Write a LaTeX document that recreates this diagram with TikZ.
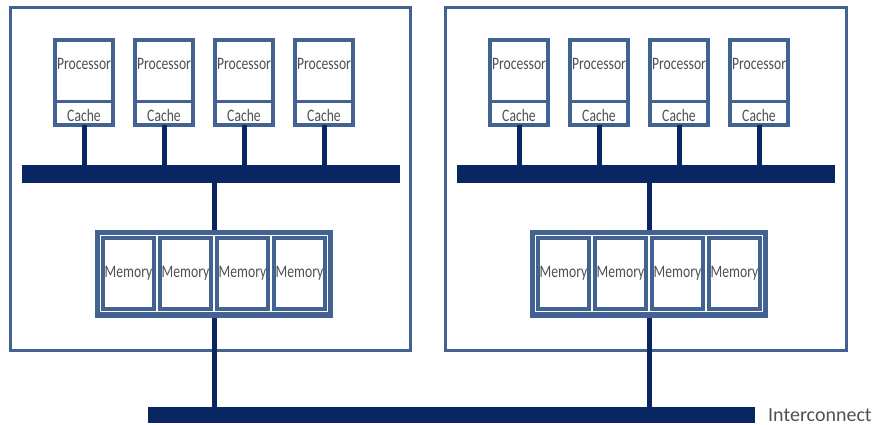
\documentclass[tikz,border=0pt]{standalone}
\usepackage{graphicx}
\usepackage{fontspec}
\setmainfont{Carlito}
\usetikzlibrary{calc}
\definecolor{boxblue}{RGB}{66,98,145}
\definecolor{busnavy}{RGB}{8,38,98}
\definecolor{txtgray}{RGB}{80,80,80}
\newcommand{\sqz}[1]{\scalebox{0.78}[1]{#1}}
\begin{document}
\begin{tikzpicture}[x=1pt,y=-1pt,
  frame/.style={draw=boxblue, line width=3pt, minimum height=342pt, inner sep=0pt, outer sep=0pt},
  procbox/.style={draw=boxblue, line width=3.5pt, fill=white, minimum width=58pt, minimum height=61.5pt,
    inner sep=0pt, outer sep=0pt, font=\fontsize{17.5}{17.5}\selectfont, text=txtgray, text depth=13pt},
  cachebox/.style={draw=boxblue, line width=3.5pt, fill=white, minimum width=58pt, minimum height=23.5pt,
    inner sep=0pt, outer sep=0pt, font=\fontsize{17.5}{17.5}\selectfont, text=txtgray, text height=17pt, text depth=0pt},
  bus/.style={fill=busnavy, minimum height=18pt, inner sep=0pt, outer sep=0pt},
  memframe/.style={fill=boxblue, minimum width=238pt, minimum height=88pt, inner sep=0pt, outer sep=0pt},
  membox/.style={preaction={draw=white, line width=6pt}, draw=boxblue, line width=4pt, fill=white,
    minimum width=51pt, minimum height=71pt, inner sep=0pt, outer sep=0pt,
    font=\fontsize{17.5}{17.5}\selectfont, text=txtgray},
  conn/.style={draw=busnavy, line width=5pt}
]
\useasboundingbox (0,0) rectangle (881,425);

% outer system frames
\node[frame, minimum width=400pt] (sysA) at (210,179) {};
\node[frame, minimum width=401pt] (sysB) at (645.5,179) {};

% buses
\node[bus, minimum width=378pt] (busA) at (211,174) {};
\node[bus, minimum width=378pt] (busB) at (646,174) {};
\node[bus, minimum height=16pt, minimum width=607pt] (ic) at (451.5,415) {};
\node[anchor=west, inner sep=0pt, font=\fontsize{20}{20}\selectfont, text=txtgray] (ictext) at ([xshift=13pt]ic.east) {Interconnect};

% processors and caches
\foreach \i/\x in {1/84, 2/164, 3/244, 4/324} {
  \node[procbox] (pA\i) at (\x,70.75) {\sqz{Processor}};
  \node[cachebox] (cA\i) at (\x,113.25) {\sqz{Cache}};
  \draw[conn] (cA\i.south) -- (cA\i.south |- busA.north);
}
\foreach \i/\x in {1/519, 2/599, 3/679, 4/759} {
  \node[procbox] (pB\i) at (\x,70.75) {\sqz{Processor}};
  \node[cachebox] (cB\i) at (\x,113.25) {\sqz{Cache}};
  \draw[conn] (cB\i.south) -- (cB\i.south |- busB.north);
}

% memory
\node[memframe] (mA) at (214,274) {};
\node[memframe] (mB) at (649,274) {};
\foreach \i/\x in {1/128.5, 2/185.5, 3/242.5, 4/299.5} {
  \node[membox] (memA\i) at (\x,273.5) {\sqz{Memory}};
}
\foreach \i/\x in {1/563.5, 2/620.5, 3/677.5, 4/734.5} {
  \node[membox] (memB\i) at (\x,273.5) {\sqz{Memory}};
}

% links
\draw[conn] (busA.south -| mA.north) -- (mA.north);
\draw[conn] (busB.south -| mB.north) -- (mB.north);
\draw[conn] (mA.south) -- (mA.south |- ic.north);
\draw[conn] (mB.south) -- (mB.south |- ic.north);
\end{tikzpicture}
\end{document}
